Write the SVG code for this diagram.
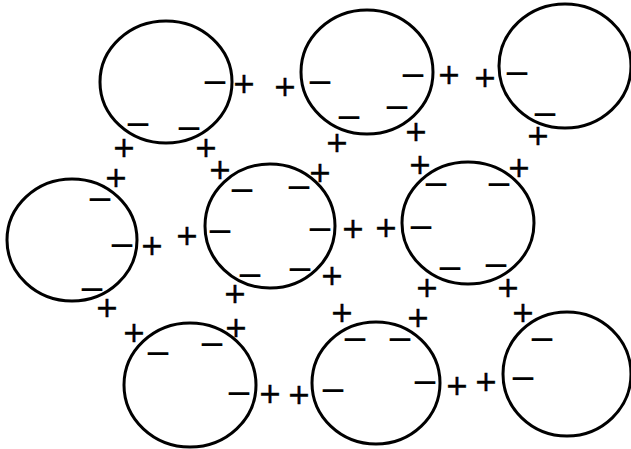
<svg xmlns="http://www.w3.org/2000/svg" width="631" height="449" viewBox="0 0 631 449">
<style>
.c{fill:none;stroke:#000;stroke-width:3}
.p{font-family:"DejaVu Sans",sans-serif;font-size:28px;text-anchor:middle;fill:#000;stroke:#000;stroke-width:0.5}
.m{font-family:"DejaVu Sans",sans-serif;font-size:33px;text-anchor:middle;fill:#000}
</style>
<rect width="631" height="449" fill="#fff"/>
<g id="cell1"><ellipse class="c" cx="166" cy="82" rx="66" ry="61"/>
<text class="m" x="215" y="93">−</text><text class="m" x="138" y="135">−</text><text class="m" x="189" y="139">−</text></g>
<g id="cell2"><ellipse class="c" cx="367" cy="72" rx="66" ry="62"/>
<text class="m" x="320" y="93">−</text><text class="m" x="413" y="86">−</text><text class="m" x="349" y="128">−</text><text class="m" x="397" y="118">−</text></g>
<g id="cell3"><ellipse class="c" cx="565" cy="66" rx="66" ry="62"/>
<text class="m" x="517" y="84">−</text><text class="m" x="545" y="125">−</text></g>
<g id="cell4"><ellipse class="c" cx="72" cy="240" rx="65" ry="61"/>
<text class="m" x="100" y="210">−</text><text class="m" x="122" y="256">−</text><text class="m" x="92" y="300">−</text></g>
<g id="cell5"><ellipse class="c" cx="270" cy="226" rx="65" ry="62"/>
<text class="m" x="242" y="201">−</text><text class="m" x="299" y="198">−</text><text class="m" x="220" y="242">−</text><text class="m" x="320" y="240">−</text><text class="m" x="250" y="286">−</text><text class="m" x="300" y="280">−</text></g>
<g id="cell6"><ellipse class="c" cx="468" cy="223" rx="66" ry="61"/>
<text class="m" x="436" y="195">−</text><text class="m" x="499" y="195">−</text><text class="m" x="421" y="238">−</text><text class="m" x="450" y="279">−</text><text class="m" x="496" y="276">−</text></g>
<g id="cell7"><ellipse class="c" cx="190" cy="385" rx="66" ry="62"/>
<text class="m" x="158" y="364">−</text><text class="m" x="212" y="355">−</text><text class="m" x="239" y="404">−</text></g>
<g id="cell8"><ellipse class="c" cx="376" cy="383" rx="64" ry="61"/>
<text class="m" x="333" y="401">−</text><text class="m" x="355" y="350">−</text><text class="m" x="400" y="350">−</text><text class="m" x="425" y="393">−</text></g>
<g id="cell9"><ellipse class="c" cx="567" cy="374" rx="64" ry="62"/>
<text class="m" x="523" y="389">−</text><text class="m" x="542" y="350">−</text></g>
<g id="charges">
<text class="p" x="244" y="93">+</text><text class="p" x="285" y="96">+</text><text class="p" x="449" y="84">+</text><text class="p" x="485" y="87">+</text>
<text class="p" x="124" y="157">+</text><text class="p" x="206" y="157">+</text><text class="p" x="337" y="152">+</text><text class="p" x="416" y="141">+</text><text class="p" x="538" y="145">+</text>
<text class="p" x="116" y="187">+</text><text class="p" x="152" y="255">+</text><text class="p" x="187" y="245">+</text><text class="p" x="107" y="317">+</text>
<text class="p" x="220" y="179">+</text><text class="p" x="320" y="182">+</text><text class="p" x="353" y="238">+</text><text class="p" x="386" y="237">+</text>
<text class="p" x="332" y="285">+</text><text class="p" x="235" y="303">+</text><text class="p" x="342" y="322">+</text>
<text class="p" x="420" y="174">+</text><text class="p" x="519" y="177">+</text><text class="p" x="427" y="297">+</text><text class="p" x="508" y="297">+</text>
<text class="p" x="418" y="327">+</text><text class="p" x="523" y="322">+</text><text class="p" x="236" y="337">+</text><text class="p" x="134" y="342">+</text>
<text class="p" x="270" y="403">+</text><text class="p" x="299" y="404">+</text><text class="p" x="457" y="395">+</text><text class="p" x="486" y="391">+</text>
</g>
</svg>
